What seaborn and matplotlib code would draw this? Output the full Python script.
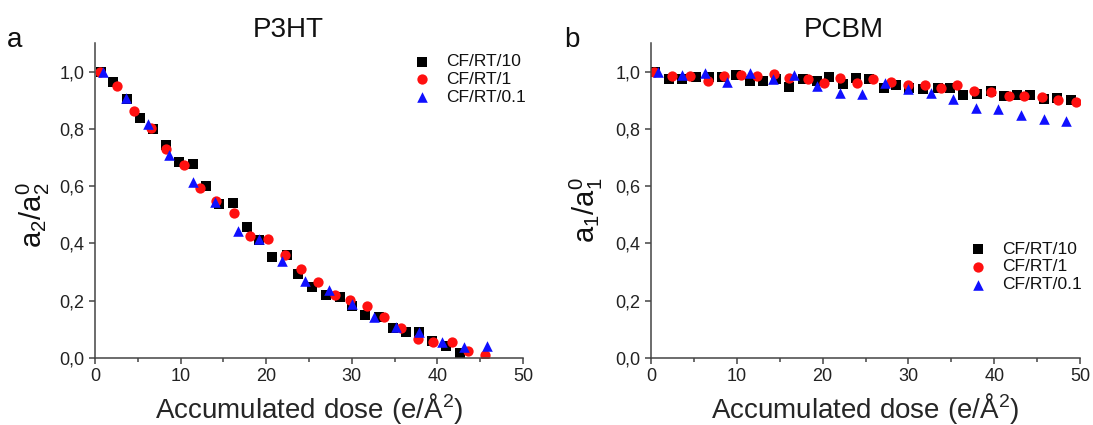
import numpy as np
import pandas as pd
import matplotlib
matplotlib.use("Agg")
import matplotlib.pyplot as plt
from matplotlib.ticker import MultipleLocator
import seaborn as sns

# ---- data ----
series_names = ["CF/RT/10", "CF/RT/1", "CF/RT/0.1"]

# P3HT (panel a)
p3ht_x_10 = [0.7, 2.1, 3.7, 5.2, 6.8, 8.3, 9.8, 11.4, 13.0, 14.5, 16.1, 17.7, 19.2, 20.7,
             22.4, 23.7, 25.4, 27.0, 28.6, 30.0, 31.6, 33.2, 34.8, 36.3, 37.9, 39.4, 41.0, 42.6]
p3ht_y_10 = [1.0, 0.964, 0.905, 0.838, 0.798, 0.745, 0.683, 0.677, 0.601, 0.537, 0.540, 0.457,
             0.412, 0.352, 0.358, 0.295, 0.248, 0.221, 0.213, 0.182, 0.151, 0.143, 0.104, 0.090,
             0.092, 0.061, 0.043, 0.019]
p3ht_x_1 = [0.6, 2.55, 4.5, 6.6, 8.3, 10.4, 12.3, 14.1, 16.2, 18.1, 20.2, 22.2, 24.1, 26.1,
            28.0, 29.8, 31.8, 33.8, 35.8, 37.7, 39.5, 41.7, 43.6, 45.6]
p3ht_y_1 = [1.0, 0.950, 0.861, 0.802, 0.730, 0.674, 0.595, 0.548, 0.505, 0.426, 0.416, 0.358,
            0.311, 0.264, 0.221, 0.201, 0.182, 0.143, 0.104, 0.066, 0.057, 0.057, 0.026, 0.011]
p3ht_x_01 = [0.9, 3.6, 6.2, 8.7, 11.4, 14.0, 16.7, 19.2, 21.9, 24.5, 27.3, 30.0, 32.6, 35.2,
             37.9, 40.5, 43.1, 45.8]
p3ht_y_01 = [1.0, 0.908, 0.818, 0.709, 0.616, 0.545, 0.443, 0.414, 0.338, 0.268, 0.236, 0.189,
             0.143, 0.108, 0.092, 0.057, 0.040, 0.042]

# PCBM (panel b)
pcbm_x_10 = [0.5, 2.1, 3.6, 5.2, 6.8, 8.3, 9.9, 11.5, 13.0, 14.6, 16.1, 17.7, 19.3, 20.8, 22.4,
             23.9, 25.4, 27.1, 28.6, 30.1, 31.7, 33.4, 34.9, 36.4, 38.0, 39.6, 41.1, 42.7, 44.2,
             45.8, 47.3, 48.9]
pcbm_y_10 = [1.0, 0.973, 0.975, 0.981, 0.981, 0.981, 0.989, 0.969, 0.969, 0.973, 0.946, 0.973,
             0.966, 0.981, 0.958, 0.978, 0.973, 0.943, 0.952, 0.943, 0.940, 0.943, 0.943, 0.917,
             0.923, 0.931, 0.915, 0.917, 0.919, 0.903, 0.908, 0.900]
pcbm_x_1 = [0.4, 2.5, 4.6, 6.6, 8.5, 10.5, 12.4, 14.3, 16.1, 18.3, 20.2, 22.0, 24.0, 25.9, 28.0,
            30.0, 31.9, 33.8, 35.7, 37.7, 39.6, 41.7, 43.5, 45.6, 47.4, 49.5]
pcbm_y_1 = [1.0, 0.985, 0.985, 0.969, 0.985, 0.987, 0.985, 0.993, 0.978, 0.975, 0.960, 0.978,
            0.961, 0.975, 0.964, 0.954, 0.952, 0.943, 0.952, 0.934, 0.929, 0.915, 0.915, 0.911,
            0.900, 0.894]
pcbm_x_01 = [0.85, 3.6, 6.3, 8.8, 11.5, 14.2, 16.7, 19.3, 22.0, 24.6, 27.3, 30.0, 32.6, 35.2,
             37.9, 40.5, 43.1, 45.8, 48.4]
pcbm_y_01 = [1.0, 0.989, 0.996, 0.964, 0.996, 0.975, 0.987, 0.950, 0.926, 0.922, 0.961, 0.940,
             0.926, 0.905, 0.873, 0.868, 0.847, 0.833, 0.827]

y_ticks = [0.0, 0.2, 0.4, 0.6, 0.8, 1.0]
y_tick_labels = ["0,0", "0,2", "0,4", "0,6", "0,8", "1,0"]
x_ticks = [0, 10, 20, 30, 40, 50]

# ---- style ----
sns.set_style("ticks")
plt.rcParams["font.family"] = ["Liberation Sans", "DejaVu Sans"]
plt.rcParams["mathtext.default"] = "regular"
plt.rcParams["axes.edgecolor"] = "#444444"
plt.rcParams["xtick.color"] = "#444444"
plt.rcParams["ytick.color"] = "#444444"
plt.rcParams["text.color"] = "#111111"

colors = {"CF/RT/10": "black", "CF/RT/1": "#ff1010", "CF/RT/0.1": "#1010ff"}
markers = {"CF/RT/10": "s", "CF/RT/1": "o", "CF/RT/0.1": "^"}
sizes = {"CF/RT/10": 44, "CF/RT/1": 55, "CF/RT/0.1": 58}

W, H = 1093, 425
fig = plt.figure(figsize=(W / 100, H / 100), dpi=100)
ax_a = fig.add_axes([95 / W, 67 / H, 428 / W, 315 / H])
ax_b = fig.add_axes([651 / W, 67 / H, 429 / W, 315 / H])

panels = [
    (ax_a, [(p3ht_x_10, p3ht_y_10), (p3ht_x_1, p3ht_y_1), (p3ht_x_01, p3ht_y_01)]),
    (ax_b, [(pcbm_x_10, pcbm_y_10), (pcbm_x_1, pcbm_y_1), (pcbm_x_01, pcbm_y_01)]),
]

for ax, data in panels:
    for name, (xs, ys) in zip(series_names, data):
        df = pd.DataFrame({"dose": xs, "ratio": ys})
        sns.scatterplot(data=df, x="dose", y="ratio", ax=ax, color=colors[name],
                        marker=markers[name], s=sizes[name], linewidth=0, label=name)
    ax.set_xlim(0, 50)
    ax.set_ylim(0, 1.1)
    ax.set_xticks(x_ticks)
    ax.xaxis.set_minor_locator(MultipleLocator(5))
    ax.set_yticks(y_ticks, y_tick_labels)
    ax.tick_params(axis="both", which="major", labelsize=13, length=4, width=1.1,
                   labelcolor="#222222")
    ax.tick_params(axis="x", which="minor", length=3, width=1.1)
    ax.set_xlabel("Accumulated dose (e/Å$^2$)", fontsize=20, labelpad=4)
    ax.set_ylabel("")
    sns.despine(ax=ax)
    for sp in ax.spines.values():
        sp.set_linewidth(1.1)

leg_kw = dict(frameon=False, fontsize=12.5, handlelength=1.0, handletextpad=0.9,
              labelspacing=0.15, borderpad=0, borderaxespad=0, loc="upper left")
ax_a.legend(bbox_to_anchor=(0.743, 0.965), **leg_kw)
ax_b.legend(bbox_to_anchor=(0.741, 0.37), **leg_kw)

# y labels, titles, panel letters
fig.text(33 / W, 1 - 215 / H, r"a$_2$/a$_2^0$", rotation=90, fontsize=21,
         ha="center", va="center")
fig.text(586 / W, 1 - 210 / H, r"a$_1$/a$_1^0$", rotation=90, fontsize=21,
         ha="center", va="center")
fig.text(288 / W, 1 - 30 / H, "P3HT", fontsize=20, ha="center", va="center")
fig.text(844 / W, 1 - 30 / H, "PCBM", fontsize=20, ha="center", va="center")
fig.text(15 / W, 1 - 40 / H, "a", fontsize=20, ha="center", va="center")
fig.text(572 / W, 1 - 40 / H, "b", fontsize=20, ha="center", va="center")

fig.savefig("out.png", dpi=100)
